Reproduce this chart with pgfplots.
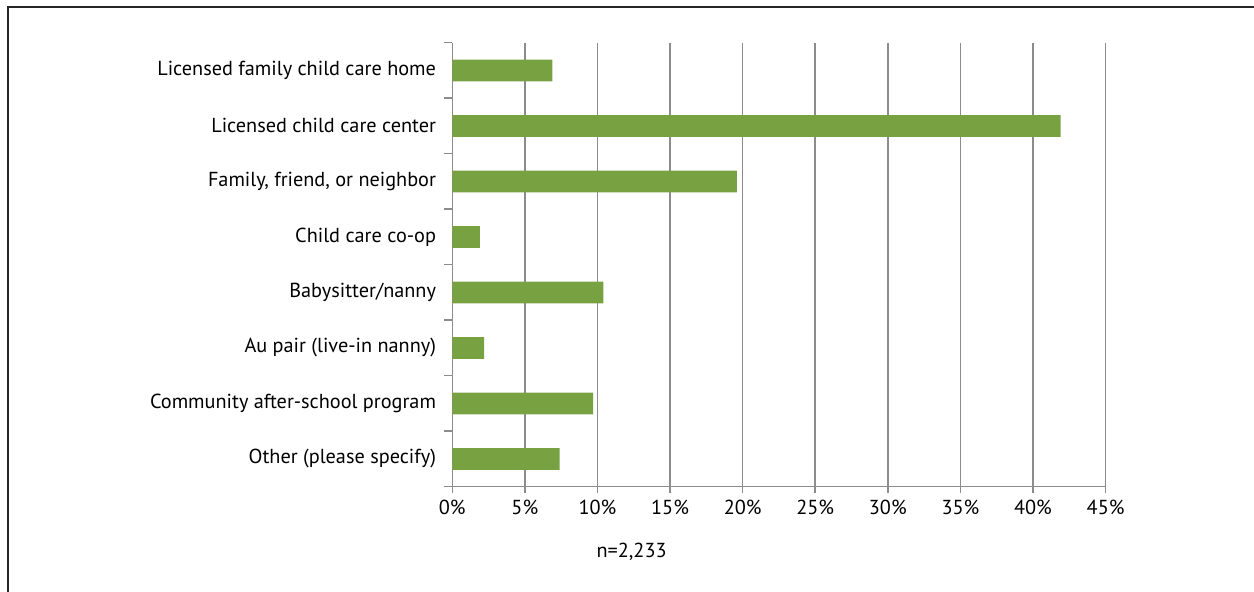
\documentclass[border=0pt]{standalone}
\usepackage{fontspec}
\setmainfont{PT Sans}
\usepackage{pgfplots}
\pgfplotsset{compat=1.18}
\definecolor{bargreen}{RGB}{120,161,66}
\definecolor{gridgray}{RGB}{140,140,140}
\begin{document}
\fontsize{15.2}{18}\selectfont
\begin{tikzpicture}
\useasboundingbox (-339.2pt,-79pt) rectangle (601.3pt,365pt);
\draw[line width=1.5pt, black!85] (601.3pt,359.4pt) -- (-333.2pt,359.4pt) -- (-333.2pt,-79pt);
\begin{axis}[at={(0,0)}, anchor=south west, scale only axis,
  width=490pt, height=333pt,
  xmin=0, xmax=45, ymin=0.5, ymax=8.5, y dir=reverse,
  axis lines*=left,
  axis line style={gridgray, line width=1.1pt},
  every tick/.style={gridgray, line width=1.1pt},
  tick align=outside, tick pos=left,
  xtick={0,5,...,45},
  xticklabels={0\%,5\%,10\%,15\%,20\%,25\%,30\%,35\%,40\%,45\%},
  major tick length=4.5pt,
  ytick={1,...,8},
  yticklabels={Licensed family child care home, Licensed child care center, {Family, friend, or neighbor}, Child care co-op, Babysitter/nanny, Au pair (live-in nanny), Community after-school program, Other (please specify)},
  minor ytick={0.5,1.5,...,8.5},
  every major y tick/.append style={draw=none},
  minor tick length=6pt,
  xmajorgrids, major x grid style={gridgray, line width=1.1pt},
  yticklabel style={inner sep=0pt, xshift=-7.5pt, font=\fontsize{15.2}{18}\selectfont},
  xticklabel style={inner sep=0pt, yshift=-5pt, font=\fontsize{15.2}{18}\selectfont},
]
\addplot[xbar, bar width=16.3pt, fill=bargreen, draw=none]
  coordinates {(6.9,1) (41.9,2) (19.6,3) (1.9,4) (10.4,5) (2.2,6) (9.7,7) (7.4,8)};
\end{axis}
\node[font=\fontsize{15.2}{18}\selectfont] at (134.5pt,-48.5pt) {n=2,233};
\end{tikzpicture}
\end{document}
